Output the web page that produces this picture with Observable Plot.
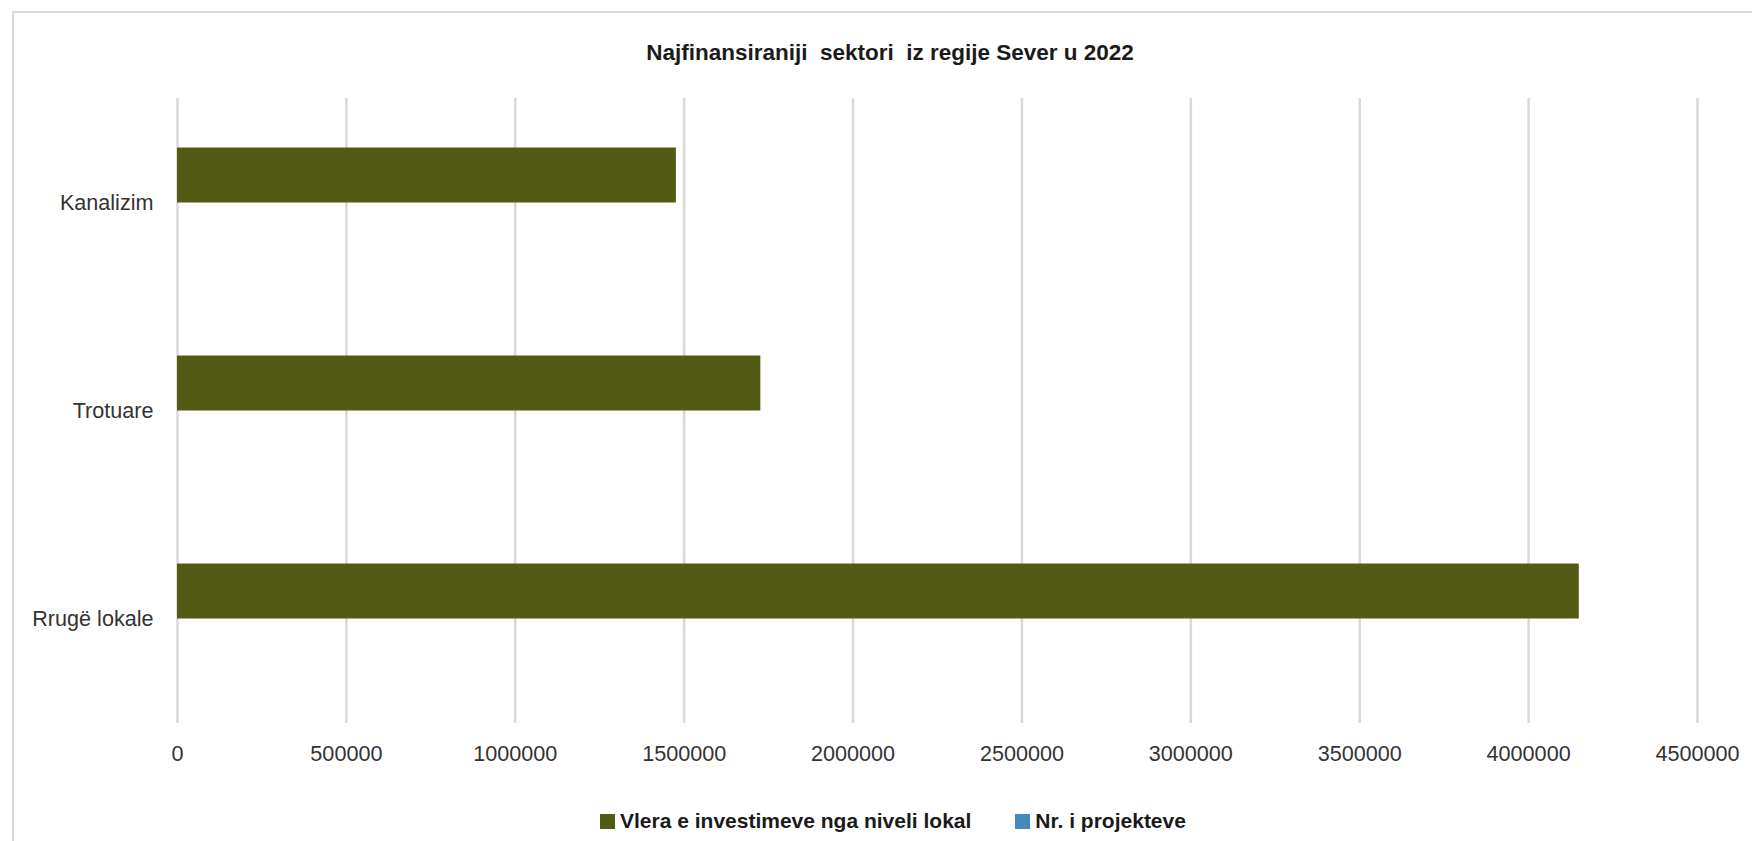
<!DOCTYPE html>
<html>
<head>
<meta charset="utf-8">
<script src="https://cdn.jsdelivr.net/npm/d3@7"></script>
<script src="https://cdn.jsdelivr.net/npm/@observablehq/plot@0.6"></script>
<style>
  html, body { margin: 0; padding: 0; background: #ffffff; }
  #wrap { position: relative; width: 1752px; height: 841px; overflow: hidden; font-family: "Liberation Sans", Arial, sans-serif; }
  #border { position: absolute; left: 12px; top: 11px; width: 1800px; height: 900px; border-left: 2px solid #d9d9d9; border-top: 2px solid #d9d9d9; box-sizing: border-box; pointer-events: none; }
  #title { position: absolute; left: 0; width: 1780px; top: 38px; text-align: center; font-weight: bold; font-size: 22.5px; color: #1a1a1a; white-space: pre; line-height: 30px; }
  #legend { position: absolute; left: 600px; top: 808px; display: flex; align-items: center; font-weight: bold; font-size: 21px; color: #1a1a1a; line-height: 26px; white-space: pre; }
  .item { display: flex; align-items: center; }
  .sw { width: 15px; height: 15px; margin-right: 5px; }
  #chart { position: absolute; left: 0; top: 0; }
</style>
</head>
<body>
<div id="wrap">
  <div id="chart"></div>
  <div id="border"></div>
  <div id="title"></div>
  <div id="legend"></div>
</div>
<script>
// ---- data ----
const titleText = "Najfinansiraniji  sektori  iz regije Sever u 2022";
const categories = ["Kanalizim", "Trotuare", "Rrugë lokale"];
const seriesNames = ["Vlera e investimeve nga niveli lokal", "Nr. i projekteve"];
const seriesColors = ["#525A14", "#4589BE"];
const investmentValues = [1477000, 1727000, 4150000];
const xTicks = [0, 500000, 1000000, 1500000, 2000000, 2500000, 3000000, 3500000, 4000000, 4500000];

const data = categories.map((c, i) => ({category: c, value: investmentValues[i]}));

document.getElementById("title").textContent = titleText;

const legend = document.getElementById("legend");
seriesNames.forEach((name, i) => {
  const item = document.createElement("div");
  item.className = "item";
  item.style.marginRight = i === 0 ? "44px" : "0";
  const sw = document.createElement("div");
  sw.className = "sw";
  sw.style.background = seriesColors[i];
  const t = document.createElement("span");
  t.textContent = name;
  item.appendChild(sw);
  item.appendChild(t);
  legend.appendChild(item);
});

const chart = Plot.plot({
  width: 1752,
  height: 841,
  marginTop: 98,
  marginBottom: 118,
  marginLeft: 177,
  marginRight: 55,
  style: {fontFamily: "Liberation Sans, Arial, sans-serif", fontSize: "21.6px", color: "#333333", background: "transparent"},
  x: {domain: [0, 4500000], label: null},
  y: {domain: categories, paddingInner: 0.736, paddingOuter: 0.368, label: null},
  marks: [
    Plot.ruleX(xTicks, {stroke: "#d9d9d9", strokeWidth: 2.5}),
    Plot.barX(data, {x: "value", y: "category", fill: seriesColors[0], dy: -27.5}),
    Plot.axisX({ticks: xTicks, tickSize: 0, tickPadding: 22, tickFormat: d3.format("d"), label: null}),
    Plot.axisY({tickSize: 0, tickPadding: 24, label: null})
  ]
});
document.getElementById("chart").appendChild(chart);
</script>
</body>
</html>
